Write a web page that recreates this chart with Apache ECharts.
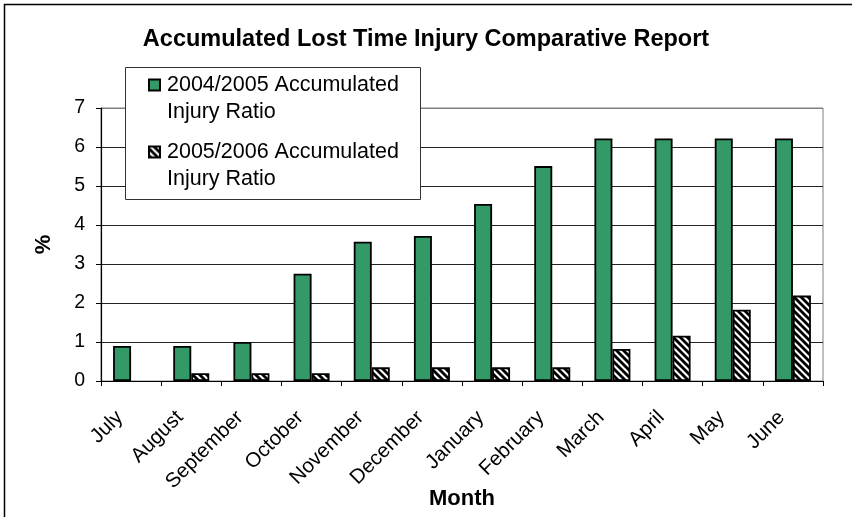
<!DOCTYPE html>
<html>
<head>
    <title>Accumulated Lost Time Injury Comparative Report</title>
    <script src="https://cdn.jsdelivr.net/npm/echarts@6.0.0/dist/echarts.min.js"></script>
    <style>
        body { margin: 0; background: #fff; }
        #chart { width: 852px; height: 517px; }
    </style>
</head>
<body>
    <div id="chart"></div>
    <script>
        // Data
        const months = ['July', 'August', 'September', 'October', 'November', 'December',
                        'January', 'February', 'March', 'April', 'May', 'June'];
        const ratio0405 = [0.9, 0.9, 1.0, 2.75, 3.57, 3.72, 4.54, 5.51, 6.22, 6.22, 6.22, 6.22];
        const ratio0506 = [null, 0.2, 0.2, 0.2, 0.35, 0.35, 0.35, 0.35, 0.82, 1.16, 1.83, 2.19];
        const seriesNames = ['2004/2005 Accumulated\nInjury Ratio', '2005/2006 Accumulated\nInjury Ratio'];
        const yTicks = [0, 1, 2, 3, 4, 5, 6, 7];

        const font = "'Liberation Sans', Arial, sans-serif";

        // diagonal hatch pattern for second series
        function hatch() {
            const c = document.createElement('canvas');
            c.width = 7; c.height = 7;
            const ctx = c.getContext('2d');
            ctx.fillStyle = '#fff';
            ctx.fillRect(0, 0, 7, 7);
            ctx.strokeStyle = '#000';
            ctx.lineWidth = 2.8;
            for (let k = -1; k <= 1; k++) {
                ctx.beginPath();
                ctx.moveTo(k * 7 - 1, -1);
                ctx.lineTo(k * 7 + 8, 8);
                ctx.stroke();
            }
            return { image: c, repeat: 'repeat' };
        }

        const chart = echarts.init(document.getElementById('chart'));

        chart.setOption({
            backgroundColor: '#fff',
            animation: false,
            textStyle: { fontFamily: font },
            title: {
                text: 'Accumulated Lost Time Injury Comparative Report',
                left: 'center',
                top: 19,
                padding: [0, 0, 0, 14],
                textStyle: { fontFamily: font, fontSize: 23.5, fontWeight: 'bold', color: '#000' }
            },
            graphic: [
                {
                    type: 'rect', z: 10, silent: true,
                    shape: { x: 4.5, y: 4.5, width: 900, height: 600 },
                    style: { fill: null, stroke: '#000', lineWidth: 1.5 }
                },
                {
                    type: 'rect', z: 3, silent: true,
                    shape: { x: 125.5, y: 67.5, width: 295, height: 132 },
                    style: { fill: '#fff', stroke: '#333', lineWidth: 1 }
                }
            ],
            legend: {
                orient: 'vertical',
                left: 148,
                top: 39.5,
                padding: 0,
                itemGap: -24,
                itemWidth: 15,
                itemHeight: 11,
                z: 5,
                icon: 'path://M0,0h11v11h-11z',
                formatter: name => '\n' + name,
                textStyle: { fontFamily: font, fontSize: 21.5, lineHeight: 27, color: '#000' }
            },
            grid: {
                left: 101, right: 29, top: 108, bottom: 136,
                show: true, borderColor: '#808080', borderWidth: 1,
                containLabel: false,
                outerBoundsMode: 'none'
            },
            xAxis: {
                type: 'category',
                data: months,
                name: 'Month',
                nameLocation: 'middle',
                nameGap: 99,
                nameMoveOverlap: false,
                nameTextStyle: { fontFamily: font, fontSize: 22, fontWeight: 'bold', color: '#000' },
                axisLine: { lineStyle: { color: '#000', width: 1.2 } },
                axisTick: { show: true, length: 5, lineStyle: { color: '#000' } },
                axisLabel: {
                    interval: 0, rotate: 45, margin: 22, padding: [0, 16, 0, 0],
                    fontSize: 20.5, color: '#000', fontFamily: font
                }
            },
            yAxis: {
                type: 'value',
                min: yTicks[0],
                max: yTicks[yTicks.length - 1],
                interval: 1,
                name: '%',
                nameLocation: 'middle',
                nameGap: 38,
                nameMoveOverlap: false,
                nameTextStyle: { fontFamily: font, fontSize: 22, fontWeight: 'bold', color: '#000' },
                axisLine: { show: true, lineStyle: { color: '#000', width: 1.2 } },
                axisTick: { show: true, length: 5, lineStyle: { color: '#000' } },
                axisLabel: { margin: 16, fontSize: 19.5, color: '#000', fontFamily: font },
                splitLine: {
                    show: true,
                    lineStyle: { color: ['#000', '#222', '#222', '#222', '#222', '#222', '#222', '#808080'], width: 1 }
                }
            },
            series: [
                {
                    name: seriesNames[0],
                    type: 'bar',
                    data: ratio0405,
                    barWidth: 18,
                    barGap: '0%',
                    itemStyle: { color: '#339966', borderColor: '#000', borderWidth: 1.8 }
                },
                {
                    name: seriesNames[1],
                    type: 'bar',
                    data: ratio0506,
                    barWidth: 18,
                    barGap: '0%',
                    itemStyle: { color: hatch(), borderColor: '#000', borderWidth: 1.8 }
                }
            ]
        });
    </script>
</body>
</html>
